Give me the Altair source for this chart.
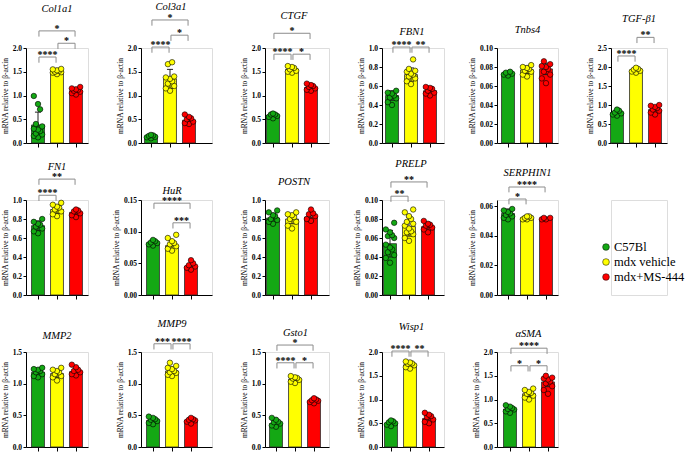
import altair as alt
import pandas as pd

# ---------------------------------------------------------------- data
GROUPS = ["C57Bl", "mdx vehicle", "mdx+MS-444"]
COLORS = ["#14a814", "#ffff00", "#ff0000"]

GENES = ["Col1a1", "Col3a1", "CTGF", "FBN1", "Tnbs4", "TGF-β1",
         "FN1", "HuR", "POSTN", "PRELP", "SERPHIN1",
         "MMP2", "MMP9", "Gsto1", "Wisp1", "αSMA"]

Y_MAX = [2.0, 2.0, 2.0, 1.0, 0.10, 2.5,
         1.0, 0.15, 1.0, 0.10, 0.06,
         1.5, 1.5, 1.5, 2.0, 2.0]
Y_STEP = [0.5, 0.5, 0.5, 0.2, 0.02, 0.5,
          0.2, 0.05, 0.2, 0.02, 0.02,
          0.5, 0.5, 0.5, 0.5, 0.5]

MEAN_C57 = [0.38, 0.14, 0.58, 0.50, 0.073, 0.80,
            0.73, 0.082, 0.81, 0.054, 0.055,
            1.18, 0.42, 0.37, 0.50, 0.80]
MEAN_VEH = [1.52, 1.35, 1.55, 0.72, 0.077, 1.92,
            0.90, 0.078, 0.80, 0.072, 0.052,
            1.16, 1.20, 1.07, 1.73, 1.12]
MEAN_MS = [1.10, 0.48, 1.17, 0.55, 0.078, 0.88,
           0.87, 0.045, 0.82, 0.072, 0.051,
           1.19, 0.42, 0.72, 0.60, 1.37]

SD_C57 = [0.27, 0.03, 0.04, 0.05, 0.001, 0.06,
          0.05, 0.003, 0.05, 0.014, 0.003,
          0.05, 0.04, 0.04, 0.04, 0.05]
SD_VEH = [0.04, 0.20, 0.05, 0.07, 0.004, 0.05,
          0.04, 0.008, 0.05, 0.010, 0.001,
          0.06, 0.06, 0.03, 0.04, 0.06]
SD_MS = [0.05, 0.07, 0.05, 0.03, 0.006, 0.09,
         0.03, 0.004, 0.04, 0.004, 0.0005,
         0.05, 0.03, 0.02, 0.07, 0.10]

PTS_C57 = {
    "Col1a1": [0.99, 0.82, 0.71, 0.35, 0.30, 0.25, 0.20, 0.15, 0.12, 0.28, 0.40, 0.18],
    "Col3a1": [0.17, 0.15, 0.12, 0.13, 0.16, 0.10],
    "CTGF": [0.62, 0.60, 0.55, 0.52, 0.57, 0.60],
    "FBN1": [0.55, 0.53, 0.50, 0.47, 0.43, 0.40, 0.52, 0.48],
    "Tnbs4": [0.074, 0.072, 0.073, 0.071, 0.075],
    "TGF-β1": [0.88, 0.85, 0.80, 0.75, 0.72, 0.78],
    "FN1": [0.80, 0.77, 0.74, 0.70, 0.67, 0.65, 0.72, 0.75],
    "HuR": [0.087, 0.085, 0.083, 0.080, 0.078, 0.082],
    "POSTN": [0.89, 0.87, 0.84, 0.80, 0.77, 0.75, 0.83, 0.79],
    "PRELP": [0.076, 0.069, 0.066, 0.063, 0.062, 0.060, 0.050, 0.048, 0.045, 0.042, 0.039, 0.034, 0.053],
    "SERPHIN1": [0.058, 0.057, 0.056, 0.054, 0.052, 0.051, 0.055, 0.053],
    "MMP2": [1.25, 1.22, 1.20, 1.18, 1.15, 1.12, 1.10, 1.23],
    "MMP9": [0.48, 0.46, 0.44, 0.41, 0.38, 0.36, 0.43],
    "Gsto1": [0.46, 0.43, 0.40, 0.37, 0.34, 0.32, 0.39],
    "Wisp1": [0.56, 0.54, 0.50, 0.47, 0.44, 0.52],
    "αSMA": [0.88, 0.85, 0.82, 0.79, 0.75, 0.72, 0.80],
}
PTS_VEH = {
    "Col1a1": [1.55, 1.50, 1.48, 1.53, 1.45, 1.52, 1.56, 1.49],
    "Col3a1": [1.70, 1.66, 1.38, 1.30, 1.25, 1.20, 1.40, 1.10, 1.15, 1.35],
    "CTGF": [1.62, 1.58, 1.52, 1.50, 1.60, 1.55, 1.48],
    "FBN1": [0.88, 0.78, 0.76, 0.73, 0.70, 0.68, 0.65, 0.62, 0.75, 0.72],
    "Tnbs4": [0.082, 0.080, 0.078, 0.075, 0.072, 0.070, 0.076, 0.079],
    "TGF-β1": [1.98, 1.95, 1.90, 1.88, 1.93, 1.85],
    "FN1": [0.97, 0.95, 0.92, 0.90, 0.88, 0.85, 0.83, 0.93],
    "HuR": [0.095, 0.090, 0.085, 0.080, 0.077, 0.073, 0.070, 0.082],
    "POSTN": [0.87, 0.85, 0.82, 0.80, 0.77, 0.73, 0.70, 0.84],
    "PRELP": [0.090, 0.087, 0.083, 0.080, 0.077, 0.073, 0.070, 0.067, 0.064, 0.060, 0.057, 0.075, 0.066],
    "SERPHIN1": [0.053, 0.052, 0.051, 0.052, 0.053, 0.051],
    "MMP2": [1.25, 1.22, 1.18, 1.15, 1.10, 1.05, 1.20, 1.12],
    "MMP9": [1.33, 1.28, 1.23, 1.20, 1.17, 1.14, 1.12, 1.25, 1.18],
    "Gsto1": [1.12, 1.10, 1.08, 1.06, 1.03, 1.01, 1.09],
    "Wisp1": [1.80, 1.78, 1.75, 1.72, 1.68, 1.65, 1.76],
    "αSMA": [1.23, 1.20, 1.16, 1.12, 1.08, 1.04, 1.00, 1.14],
}
PTS_MS = {
    "Col1a1": [1.15, 1.12, 1.08, 1.05, 1.18, 1.10, 1.02, 1.13],
    "Col3a1": [0.60, 0.55, 0.50, 0.45, 0.40, 0.42, 0.52],
    "CTGF": [1.25, 1.20, 1.15, 1.12, 1.18, 1.22, 1.10],
    "FBN1": [0.59, 0.58, 0.55, 0.53, 0.50, 0.57, 0.52],
    "Tnbs4": [0.086, 0.083, 0.081, 0.078, 0.075, 0.072, 0.068, 0.063, 0.080],
    "TGF-β1": [1.00, 0.98, 0.92, 0.88, 0.80, 0.75, 0.85, 0.95],
    "FN1": [0.90, 0.88, 0.86, 0.84, 0.82, 0.89],
    "HuR": [0.055, 0.050, 0.047, 0.043, 0.040, 0.045],
    "POSTN": [0.90, 0.86, 0.83, 0.80, 0.78, 0.85],
    "PRELP": [0.078, 0.075, 0.073, 0.071, 0.069, 0.066, 0.074],
    "SERPHIN1": [0.052, 0.051, 0.051, 0.052],
    "MMP2": [1.30, 1.26, 1.22, 1.18, 1.15, 1.13, 1.20],
    "MMP9": [0.46, 0.44, 0.42, 0.40, 0.37, 0.43],
    "Gsto1": [0.77, 0.75, 0.73, 0.71, 0.69, 0.74],
    "Wisp1": [0.72, 0.68, 0.63, 0.58, 0.53, 0.50, 0.65],
    "αSMA": [1.50, 1.46, 1.42, 1.38, 1.34, 1.28, 1.20, 1.12, 1.44],
}

# significance brackets: (group a, group b, bracket height, label)
SIG = {
    "Col1a1": [(0, 1, 1.81, "****"), (1, 2, 2.10, "*"), (0, 2, 2.36, "*")],
    "Col3a1": [(0, 1, 2.02, "****"), (1, 2, 2.27, "*"), (0, 2, 2.59, "*")],
    "CTGF": [(0, 1, 1.87, "****"), (1, 2, 1.87, "*"), (0, 2, 2.31, "*")],
    "FBN1": [(0, 1, 1.01, "****"), (1, 2, 1.01, "**")],
    "Tnbs4": [],
    "TGF-β1": [(0, 1, 2.29, "****"), (1, 2, 2.78, "**")],
    "FN1": [(0, 1, 1.05, "****"), (0, 2, 1.22, "**")],
    "HuR": [(1, 2, 0.114, "***"), (0, 2, 0.145, "****")],
    "POSTN": [],
    "PRELP": [(0, 1, 0.104, "**"), (0, 2, 0.119, "**")],
    "SERPHIN1": [(0, 1, 0.0647, "*"), (0, 2, 0.0728, "****")],
    "MMP2": [],
    "MMP9": [(0, 1, 1.63, "***"), (1, 2, 1.63, "****")],
    "Gsto1": [(0, 1, 1.33, "****"), (1, 2, 1.33, "*"), (0, 2, 1.61, "*")],
    "Wisp1": [(0, 1, 2.02, "****"), (1, 2, 2.02, "**")],
    "αSMA": [(0, 1, 1.71, "*"), (1, 2, 1.71, "*"), (0, 2, 2.08, "****")],
}

# ---------------------------------------------------------------- layout
UNIT = 19            # px between neighbouring bars
HEIGHT = 95          # plot height of every panel
COL_W = [62, 71, 64, 62, 61, 56]
LEAD = {             # px from the y axis to the first bar centre
    "Col1a1": 12, "Col3a1": 10, "CTGF": 8, "FBN1": 10, "Tnbs4": 11, "TGF-β1": 6,
    "FN1": 12, "HuR": 12, "POSTN": 8, "PRELP": 8, "SERPHIN1": 11,
    "MMP2": 12, "MMP9": 12, "Gsto1": 11, "Wisp1": 9, "αSMA": 13,
}
TITLE_GAP = {        # px between a panel's content and its gene title
    "Col1a1": 9, "Col3a1": 0, "CTGF": 5, "FBN1": 3, "Tnbs4": 9, "TGF-β1": 6,
    "FN1": 0, "HuR": 0, "POSTN": 9, "PRELP": 5, "SERPHIN1": 2,
    "MMP2": 7, "MMP9": 7, "Gsto1": 0, "Wisp1": 12, "αSMA": 2,
}
# SERPHIN1's axis stops short of the panel top
TOP_STRETCH = {"SERPHIN1": 95 / 89}
SPREAD = [0.0, -0.22, 0.22, -0.11, 0.11]
BAR_HALF = 0.34
CAP_HALF = 0.16
GAP = 0.05
SERIF = "Liberation Serif"

color_scale = alt.Scale(domain=GROUPS, range=COLORS)


def panel(k, width):
    gene = GENES[k]
    lead = LEAD[gene]
    ymax, step = Y_MAX[k], Y_STEP[k]
    ytop = ymax * TOP_STRETCH.get(gene, 1.0)
    nt = int(round(ymax / step))
    ticks = [round(i * step, 4) for i in range(nt + 1)]
    fmt = ".1f" if step >= 0.1 else ".2f"

    means = [MEAN_C57[k], MEAN_VEH[k], MEAN_MS[k]]
    sds = [SD_C57[k], SD_VEH[k], SD_MS[k]]
    bars = pd.DataFrame({"group": GROUPS, "idx": [0, 1, 2], "mean": means, "sd": sds})
    bars["x0"] = bars["idx"] - BAR_HALF
    bars["x1"] = bars["idx"] + BAR_HALF
    bars["lo"] = bars["mean"] - bars["sd"]
    bars["hi"] = bars["mean"] + bars["sd"]

    caps = pd.DataFrame(
        [{"c0": i - CAP_HALF, "c1": i + CAP_HALF, "y": m + s * sgn}
         for i, (m, s) in enumerate(zip(means, sds)) for sgn in (-1, 1)])

    rows = []
    for i, src in enumerate([PTS_C57, PTS_VEH, PTS_MS]):
        vals = sorted(src[gene])
        for r, v in enumerate(vals):
            rows.append({"group": GROUPS[i], "px": i + SPREAD[r % len(SPREAD)], "v": v})
    pts = pd.DataFrame(rows)

    xs = alt.Scale(domain=[-lead / UNIT, (width - lead) / UNIT], nice=False, zero=False)
    ys = alt.Scale(domain=[0, ytop], nice=False, zero=True)
    x_axis = alt.Axis(values=[0, 1, 2], labels=False, title=None, grid=False,
                      tickSize=4, tickColor="black", domainColor="black")
    y_axis = alt.Axis(values=ticks, format=fmt, grid=False,
                      title="mRNA relative to β-actin", titleFont=SERIF,
                      titleFontSize=7.5, titleFontWeight="normal", titleColor="black",
                      titlePadding=3, labelFont=SERIF, labelFontSize=7.5,
                      labelFontWeight="bold", labelColor="black", labelPadding=1.5,
                      tickSize=3, tickColor="black", domainColor="black")

    def X(f):
        return alt.X(f, type="quantitative", scale=xs, axis=x_axis)

    def Y(f):
        return alt.Y(f, type="quantitative", scale=ys, axis=y_axis)

    fill = alt.Fill("group:N", scale=color_scale, legend=None)

    layers = [
        alt.Chart(bars).mark_bar(stroke="#2a2a2a", strokeWidth=0.8).encode(
            x=X("x0"), x2="x1", y=Y("mean"), y2=alt.datum(0), fill=fill),
        alt.Chart(bars).mark_rule(color="#222222", strokeWidth=1).encode(
            x=X("idx"), y=Y("lo"), y2="hi"),
        alt.Chart(caps).mark_rule(color="#222222", strokeWidth=1).encode(
            x=X("c0"), x2="c1", y=Y("y")),
        alt.Chart(pts).mark_circle(size=30, opacity=1, stroke="black", strokeWidth=0.6).encode(
            x=X("px"), y=Y("v"), fill=fill),
    ]

    if SIG[gene]:
        seg, lab = [], []
        for a, b, lev, txt in SIG[gene]:
            xa, xb = a + GAP, b - GAP
            leg = 0.06 * ymax
            seg += [{"bx": xa, "bx2": xb, "by": lev, "by2": lev},
                    {"bx": xa, "bx2": xa, "by": lev, "by2": lev - leg},
                    {"bx": xb, "bx2": xb, "by": lev, "by2": lev - leg}]
            lab.append({"tx": (a + b) / 2, "ty": lev, "lab": txt})
        layers.append(alt.Chart(pd.DataFrame(seg)).mark_rule(color="#8c8c8c", strokeWidth=1).encode(
            x=X("bx"), x2="bx2", y=Y("by"), y2="by2"))
        layers.append(alt.Chart(pd.DataFrame(lab)).mark_text(
            font=SERIF, fontWeight="bold", fontSize=10, baseline="alphabetic", dy=1,
            color="black").encode(x=X("tx"), y=Y("ty"), text="lab:N"))

    dx = (lead + 2 * UNIT + 12) / 2 - width / 2
    title = alt.TitleParams(text=gene, font=SERIF, fontSize=10.5, fontStyle="italic",
                            fontWeight="normal", color="black", frame="group",
                            anchor="middle", dx=dx, offset=TITLE_GAP[gene])
    return alt.layer(*layers).properties(width=width, height=HEIGHT, title=title)


def legend_cell(width):
    # key rows 15 px apart, the first one 47 px below the panel top
    df = pd.DataFrame({"group": GROUPS, "pos": [0, 1, 2]})
    ly = alt.Y("pos:Q", axis=None,
               scale=alt.Scale(domain=[-47 / 15, (HEIGHT - 47) / 15], reverse=True,
                               nice=False, zero=False))
    dots = alt.Chart(df).mark_circle(size=45, opacity=1, stroke="black", strokeWidth=0.5).encode(
        y=ly, x=alt.value(-5), fill=alt.Fill("group:N", scale=color_scale, legend=None))
    names = alt.Chart(df).mark_text(align="left", baseline="middle", font=SERIF,
                                    fontSize=12.5, color="black").encode(
        y=ly, x=alt.value(3), text="group:N")
    return alt.layer(dots, names).properties(width=width, height=HEIGHT)


cells = []
for k in range(0, 6):
    cells.append(panel(k, COL_W[k]))
for c, k in enumerate(range(6, 11)):
    cells.append(panel(k, COL_W[c]))
cells.append(legend_cell(COL_W[5]))
for c, k in enumerate(range(11, 16)):
    cells.append(panel(k, COL_W[c]))

chart = alt.concat(
    *cells, columns=6, align="each", bounds="flush",
    spacing={"row": 57, "column": 53},
).resolve_scale(
    x="independent", y="independent"
).configure_view(
    stroke=None
).configure(
    background="white", padding={"left": 0, "top": 1, "right": 0, "bottom": 0}
)

chart.save("out.html", embed_options={"renderer": "svg", "actions": False})
